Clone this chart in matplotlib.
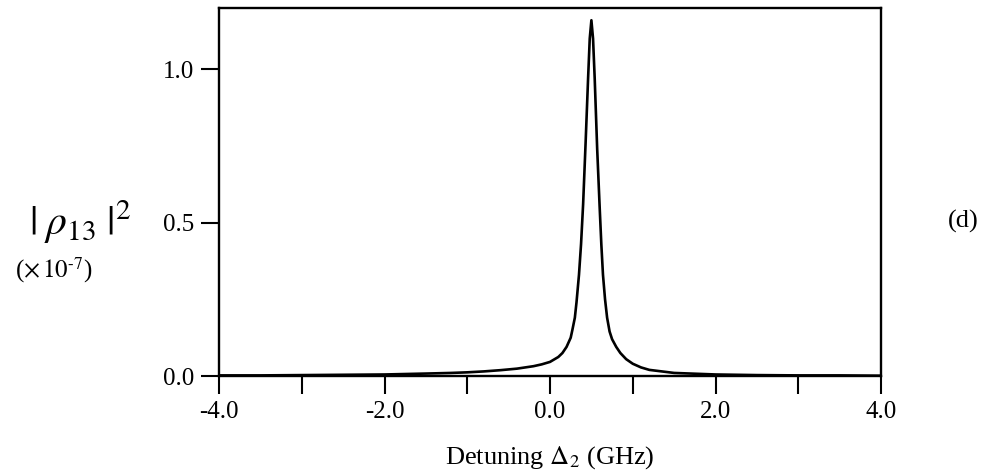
import numpy as np
import matplotlib
matplotlib.use('Agg')
import matplotlib.pyplot as plt

plt.rcParams['font.family'] = ['Liberation Serif', 'DejaVu Serif']
plt.rcParams['mathtext.fontset'] = 'stix'
plt.rcParams['axes.unicode_minus'] = False

# 曲线数据
detuning = [-4.0, -3.5, -3.0, -2.5, -2.0, -1.5, -1.2, -1.0, -0.8, -0.6,
            -0.4, -0.2, -0.1, 0.0, 0.1, 0.15, 0.2, 0.25, 0.27, 0.3, 0.32, 0.35,
            0.375, 0.40, 0.43, 0.46, 0.48, 0.50, 0.52, 0.54, 0.57, 0.60, 0.62, 0.64,
            0.665, 0.69, 0.72, 0.75, 0.80, 0.85, 0.92, 1.0, 1.1, 1.2, 1.5, 2.0,
            2.5, 3.0, 3.5, 4.0]
rho13_sq = [0.002, 0.002, 0.003, 0.004, 0.005, 0.008, 0.010, 0.012, 0.015, 0.019,
            0.024, 0.032, 0.038, 0.046, 0.062, 0.075, 0.095, 0.125, 0.150, 0.19, 0.24, 0.33,
            0.43, 0.56, 0.76, 0.97, 1.10, 1.16, 1.10, 0.97, 0.74, 0.55, 0.43, 0.33,
            0.25, 0.19, 0.145, 0.12, 0.095, 0.075, 0.055, 0.040, 0.028, 0.020, 0.010, 0.005,
            0.003, 0.002, 0.002, 0.001]

x_ticks = [-4, -3, -2, -1, 0, 1, 2, 3, 4]
x_labels = ['-4.0', '', '-2.0', '', '0.0', '', '2.0', '', '4.0']
y_ticks = [0.0, 0.5, 1.0]
y_labels = ['0.0', '0.5', '1.0']

fig = plt.figure(figsize=(9.88, 4.75), dpi=100)
ax = fig.add_axes([0.2217, 0.2084, 0.670, 0.7748])

ax.plot(detuning, rho13_sq, color='black', linewidth=1.9)

ax.set_xlim(-4, 4)
ax.set_ylim(0, 1.2)
ax.set_xticks(x_ticks)
ax.set_xticklabels(x_labels)
ax.set_yticks(y_ticks)
ax.set_yticklabels(y_labels)

for s in ax.spines.values():
    s.set_linewidth(1.7)
ax.tick_params(axis='x', direction='out', length=13, width=1.5, pad=5, labelsize=18)
ax.tick_params(axis='y', direction='out', length=13, width=1.5, pad=5, labelsize=18)

ax.set_xlabel(r'Detuning $\Delta_2$ (GHz)', fontsize=19, labelpad=15)

# 纵轴标签
fig.text(0.081, 0.533, r'$|\;\rho_{13}\;|^2$', fontsize=30, ha='center', va='center')
fig.text(0.054, 0.432, r'($\times\,10^{\text{-}7}$)', fontsize=18, ha='center', va='center')
fig.text(0.975, 0.533, '(d)', fontsize=19, ha='center', va='center')

plt.savefig('out.png', dpi=100)
